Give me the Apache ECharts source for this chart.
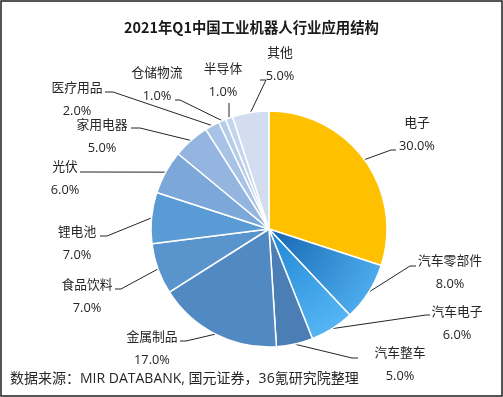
<!DOCTYPE html>
<html>
<head>
<meta charset="utf-8">
<script src="https://cdn.jsdelivr.net/npm/echarts@6/dist/echarts.min.js"></script>
<style>
html,body{margin:0;padding:0;background:#fff}
#main{width:503px;height:397px}
</style>
</head>
<body>
<div id="main"></div>
<script>
// 行业分类 与 占比(%)
var industries = ['电子','汽车零部件','汽车电子','汽车整车','金属制品','食品饮料','锂电池','光伏','家用电器','医疗用品','仓储物流','半导体','其他'];
var shares = [30, 8, 6, 5, 17, 7, 7, 6, 5, 2, 1, 1, 5];

var CX = 269, CY = 229, R = 118;
var FONT = '"Open Sans", "Noto Sans CJK SC"';

function radial(c0, c1){
  return {type:'radial', x:CX, y:CY, r:R, global:true,
    colorStops:[{offset:0,color:c0},{offset:1,color:c1}]};
}
var colors = ['#FFC000', radial('#1565B0','#4CABEC'), radial('#1F86D2','#55B5F4'), '#4A7EB4',
  '#5189C3', '#5A94CD', '#5B9BD5', '#7BA8D9', '#93B5E0', '#A8C3E6', '#B6CCE9', '#C3D5EE', '#D2DEF0'];

// 标签位置: [中心x, 中心y, 折点x, 折点y, 终点x, 终点y]
var labelPos = [
  [417,134.5, 391,150, 396,150],
  [450,272.5, 410,266, 416,266],
  [457,324,   426,315, 430,315],
  [400,365,   352,358, 358,358],
  [152,349,   186,341, 180,341],
  [87,297,    121,289, 115,289],
  [77,244,    107,236, 100,236],
  [65,179,    85,172,  80,172],
  [102,136.5, 140,128, 131,128],
  [77,100,    113,92,  105,92],
  [157,85,    180,100, 175,100],
  [223,81,    229,104, 229,103],
  [280,64.5,  266,80,  260,80]
];

var pieData = industries.map(function(n, i){
  return {name:n, value:shares[i], itemStyle:{color:colors[i]}};
});

var chart = echarts.init(document.getElementById('main'));
chart.setOption({
  backgroundColor:'#fff',
  animation:false,
  title:{
    text:'2021年Q1中国工业机器人行业应用结构',
    left:119, top:15,
    textStyle:{fontFamily:'Noto Sans CJK SC', fontSize:14.4, fontWeight:'bold', color:'#1a1a1a'}
  },
  graphic:[
    {type:'rect', shape:{x:1, y:1, width:501, height:395}, style:{fill:'none', stroke:'#1f1f1f', lineWidth:1.5}, silent:true},
    {type:'text', left:10, top:372, style:{text:'数据来源：MIR DATABANK, 国元证券，36氪研究院整理',
      font:'14px ' + FONT, fill:'#262626'}}
  ],
  series:[{
    type:'pie',
    center:[CX, CY],
    radius:R,
    startAngle:90,
    clockwise:true,
    avoidLabelOverlap:false,
    itemStyle:{borderColor:'#fff', borderWidth:1.5},
    label:{
      show:true,
      fontFamily:FONT,
      fontSize:12.8,
      lineHeight:23,
      color:'#262626',
      formatter:function(p){ return p.name + '\n' + p.percent.toFixed(1) + '%'; }
    },
    labelLine:{show:true, length:8, length2:5, lineStyle:{color:'#262626', width:1}},
    labelLayout:function(p){
      var lp = labelPos[p.dataIndex];
      var start = p.labelLinePoints && p.labelLinePoints[0];
      var out = {x:lp[0], y:lp[1], align:'center', verticalAlign:'middle'};
      if (start) out.labelLinePoints = [start, [lp[2], lp[3]], [lp[4], lp[5]]];
      return out;
    },
    emphasis:{disabled:true},
    data:pieData
  }]
});
</script>
</body>
</html>
